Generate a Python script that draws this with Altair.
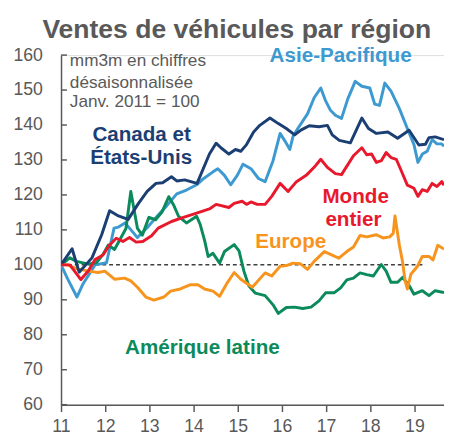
import altair as alt
import pandas as pd

# ---------------- data (Jan 2011 = 100, 3-month moving average) ----------------
can_t = [2011.0, 2011.25, 2011.41, 2011.7, 2011.92, 2012.1, 2012.3, 2012.52, 2012.75, 2012.95,
         2013.15, 2013.3, 2013.5, 2013.62, 2013.8, 2014.08, 2014.36, 2014.51, 2014.62, 2014.8,
         2014.95, 2015.07, 2015.2, 2015.36, 2015.5, 2015.73, 2015.92, 2016.1, 2016.29, 2016.44,
         2016.62, 2016.84, 2017.03, 2017.14, 2017.3, 2017.55, 2017.81, 2017.96, 2018.14, 2018.4,
         2018.62, 2018.88, 2019.1, 2019.25, 2019.33, 2019.47, 2019.67]
can_v = [100, 104.6, 97.9, 102, 108.6, 115.5, 114, 113, 117.5, 121,
         123.3, 123.5, 125.2, 124, 124.3, 123.3, 131.7, 134.8, 133.5, 131.7,
         133, 132.5, 134.4, 138, 139.9, 142, 140.4, 139, 137.2, 138.6,
         139.8, 139.5, 139.9, 137.2, 135.6, 134.9, 142, 139, 137.6, 138,
         136.2, 138.5, 134.3, 134.5, 136.4, 136.6, 135.8]

asia_t = [2011.0, 2011.15, 2011.36, 2011.5, 2011.77, 2012.03, 2012.2, 2012.3, 2012.45, 2012.73,
          2012.95, 2013.18, 2013.4, 2013.62, 2013.84, 2014.07, 2014.2, 2014.44, 2014.55, 2014.7,
          2014.84, 2014.99, 2015.12, 2015.3, 2015.47, 2015.62, 2015.8, 2015.96, 2016.07, 2016.18,
          2016.25, 2016.36, 2016.58, 2016.73, 2016.88, 2016.99, 2017.1, 2017.21, 2017.35, 2017.49,
          2017.66, 2017.81, 2017.99, 2018.1, 2018.21, 2018.33, 2018.47, 2018.66, 2018.84, 2018.99,
          2019.08, 2019.18, 2019.29, 2019.4, 2019.51, 2019.62, 2019.67]
asia_v = [100, 96, 90.8, 94.6, 100, 100.6, 110.5, 110.8, 112, 107.8,
          110.6, 114, 117, 120.3, 121.4, 122.9, 124.4, 126.6, 127.5, 125.6,
          122.9, 125.6, 128.8, 127.5, 124.7, 123.8, 129.8, 137.6, 135.4, 133,
          136.7, 139, 143.2, 147.8, 150.6, 146.9, 144.2, 142.8, 141.9, 147.4,
          152.5, 151.1, 150.6, 146, 145.6, 152, 149.7, 144.7, 139, 134.4,
          129.3, 131.7, 132.5, 135.8, 134.6, 134.6, 133.9]

world_t = [2011.0, 2011.2, 2011.45, 2011.62, 2011.77, 2011.95, 2012.1, 2012.25, 2012.4, 2012.55,
           2012.7, 2012.85, 2013.05, 2013.2, 2013.5, 2013.77, 2014.07, 2014.36, 2014.51, 2014.8,
           2014.92, 2015.1, 2015.2, 2015.3, 2015.44, 2015.62, 2015.77, 2015.96, 2016.14, 2016.33,
           2016.55, 2016.73, 2016.88, 2017.03, 2017.21, 2017.35, 2017.62, 2017.81, 2017.92, 2018.03,
           2018.14, 2018.25, 2018.36, 2018.47, 2018.59, 2018.7, 2018.84, 2018.99, 2019.08, 2019.18,
           2019.29, 2019.4, 2019.51, 2019.62, 2019.67]
world_v = [100, 100, 95.8, 98.3, 101.5, 102.8, 105.7, 107.6, 106.7, 107.8,
           106.5, 106.7, 108.3, 110.5, 112.4, 113.6, 114.8, 116, 117.3, 116.4,
           117.6, 118.2, 117.3, 118, 117.3, 117.3, 119.6, 123.3, 121, 123.8,
           125.6, 127.9, 130.2, 127.9, 126.1, 125.8, 131.2, 133.5, 131.5, 131.7,
           129.3, 129.8, 132.1, 130.7, 130.2, 127, 122.8, 121.9, 119.6, 121.5,
           121, 123.3, 122.4, 123.8, 122.8]

eur_t = [2011.0, 2011.15, 2011.33, 2011.62, 2011.84, 2011.99, 2012.21, 2012.44, 2012.58, 2012.73,
         2012.92, 2013.1, 2013.33, 2013.48, 2013.7, 2013.92, 2014.1, 2014.25, 2014.44, 2014.59,
         2014.77, 2014.92, 2015.07, 2015.33, 2015.62, 2015.77, 2015.96, 2016.1, 2016.25, 2016.42,
         2016.58, 2016.73, 2016.96, 2017.14, 2017.29, 2017.47, 2017.62, 2017.77, 2017.92, 2018.14,
         2018.29, 2018.44, 2018.52, 2018.56, 2018.66, 2018.73, 2018.79, 2018.84, 2018.92, 2019.07,
         2019.18, 2019.33, 2019.42, 2019.53, 2019.67]
eur_v = [100, 100, 99, 98.2, 97.8, 98.2, 95.9, 96.2, 95.4, 93.6,
         90.8, 89.9, 90.8, 92.5, 93.1, 94.3, 94.3, 93.1, 92.5, 91,
         95, 97.8, 95.9, 93.6, 97.7, 96.8, 99.6, 99.8, 100.5, 100.3,
         98.7, 101, 103.8, 102.8, 101.9, 103.8, 105.1, 108.4, 108, 108.6,
         107.7, 108, 109, 114, 105.6, 101, 95.4, 93.1, 97.3, 99.6,
         102.4, 102.4, 101.4, 105.6, 104.5]

latam_t = [2011.0, 2011.2, 2011.35, 2011.62, 2011.8, 2011.95, 2012.07, 2012.21, 2012.35, 2012.47,
           2012.58, 2012.73, 2012.84, 2012.99, 2013.14, 2013.29, 2013.44, 2013.55, 2013.66, 2013.84,
           2014.07, 2014.15, 2014.25, 2014.33, 2014.44, 2014.59, 2014.7, 2014.92, 2015.03, 2015.14,
           2015.25, 2015.4, 2015.62, 2015.81, 2015.92, 2016.1, 2016.29, 2016.47, 2016.66, 2016.84,
           2016.99, 2017.18, 2017.33, 2017.47, 2017.62, 2017.77, 2017.92, 2018.07, 2018.25, 2018.36,
           2018.47, 2018.62, 2018.73, 2018.88, 2018.99, 2019.18, 2019.33, 2019.47, 2019.67]
latam_v = [100, 102, 101, 100.2, 100.6, 103, 105.7, 104.4, 107.6, 110.4,
           121, 110.4, 108.5, 113.6, 112.9, 115.2, 119.5, 117.1, 113.9, 112,
           113.9, 111.6, 107, 102.4, 103.3, 100.5, 103.8, 105.8, 104, 98.2,
           94, 91.9, 91.2, 88.4, 86.1, 87.8, 87.9, 87.5, 87.9, 89.7,
           92, 92, 93.4, 95.7, 96.2, 97.7, 97.2, 96.8, 100.1, 98.2,
           95, 95, 96.4, 94.1, 91.6, 92.6, 91.2, 92.6, 92.1]

y_ticks = [60, 70, 80, 90, 100, 110, 120, 130, 140, 150, 160]
x_ticks = [2011, 2012, 2013, 2014, 2015, 2016, 2017, 2018, 2019]

# label annotations: text, year, value, colour
lab_text = ["Asie-Pacifique", "Monde", "entier", "Europe", "Amérique latine"]
lab_year = [2017.33, 2017.67, 2017.62, 2016.2, 2014.2]
lab_val = [159.7, 119.3, 112.8, 106.6, 76.3]
lab_col = ["#3d9ad1", "#e8192c", "#e8192c", "#f7941d", "#0b8a5b"]

can_lab_text = ["Canada et", "États-Unis"]
can_lab_year = [2011.71, 2011.66]
can_lab_val = [137.2, 130.5]

note_text = ["mm3m en chiffres", "désaisonnalisée", "Janv. 2011 = 100"]
note_year = [2011.2, 2011.2, 2011.2]
note_val = [158.3, 152.1, 146.5]

GREY = "#595959"
FONT = "Liberation Sans"

x_scale = alt.Scale(domain=[2011, 2019.67], nice=False, zero=False)
y_scale = alt.Scale(domain=[60, 160], nice=False, zero=False)

x_axis = alt.Axis(values=x_ticks, labelExpr="datum.value - 2000", tickSize=7, tickColor=GREY,
                  tickWidth=1.5, labelFontSize=18, labelColor=GREY, labelFont=FONT,
                  labelPadding=6, labelFlush=False, domainColor=GREY, domainWidth=1.5,
                  grid=False, title=None)
y_axis = alt.Axis(values=y_ticks, tickSize=0, labelFontSize=18, labelColor=GREY, labelFont=FONT,
                  labelPadding=19, domainColor=GREY, domainWidth=1.5, grid=False, title=None)

X = lambda f: alt.X(f, type="quantitative", scale=x_scale, axis=x_axis)
Y = lambda f: alt.Y(f, type="quantitative", scale=y_scale, axis=y_axis)

layers = []

# inward y ticks
tick_df = pd.DataFrame({"v": y_ticks})
layers.append(alt.Chart(tick_df).mark_rule(color=GREY, strokeWidth=1.5).encode(
    x=alt.value(0), x2=alt.value(6), y=Y("v")))

# dashed 100 reference line
ref_df = pd.DataFrame({"x": [2011], "x2": [2019.25], "y": [100]})
layers.append(alt.Chart(ref_df).mark_rule(color="#404040", strokeWidth=1.5, strokeDash=[4, 3]).encode(
    x=X("x"), x2="x2", y=Y("y")))

series = [
    (asia_t, asia_v, "#3d9ad1"),
    (latam_t, latam_v, "#0b8a5b"),
    (eur_t, eur_v, "#f7941d"),
    (can_t, can_v, "#1c3f73"),
    (world_t, world_v, "#e8192c"),
]
for t, v, col in series:
    df = pd.DataFrame({"year": t, "val": v})
    layers.append(alt.Chart(df).mark_line(color=col, strokeWidth=3, clip=True,
                                          strokeJoin="round").encode(x=X("year"), y=Y("val")))

lab_df = pd.DataFrame({"text": lab_text, "year": lab_year, "val": lab_val, "col": lab_col})
layers.append(alt.Chart(lab_df).mark_text(font=FONT, fontSize=21, fontWeight="bold",
                                          align="center", baseline="middle").encode(
    x=X("year"), y=Y("val"), text="text:N", color=alt.Color("col:N", scale=None)))

can_df = pd.DataFrame({"text": can_lab_text, "year": can_lab_year, "val": can_lab_val})
layers.append(alt.Chart(can_df).mark_text(font=FONT, fontSize=21, fontWeight="bold", color="#1c3f73",
                                          align="left", baseline="middle").encode(
    x=X("year"), y=Y("val"), text="text:N"))

note_df = pd.DataFrame({"text": note_text, "year": note_year, "val": note_val})
layers.append(alt.Chart(note_df).mark_text(font=FONT, fontSize=17.5, color=GREY,
                                           align="left", baseline="middle").encode(
    x=X("year"), y=Y("val"), text="text:N"))

chart = alt.layer(*layers).properties(
    width=390, height=356,
    autosize=alt.AutoSizeParams(type="none"),
    padding={"left": 54, "top": 44, "right": 0, "bottom": 32},
    title=alt.TitleParams("Ventes de véhicules par région", font=FONT, fontSize=27,
                          fontWeight="bold", color=GREY, anchor="middle", offset=1, dx=-16),
).configure_view(stroke=None).configure(background="white")

chart.save("out.html", embed_options={"renderer": "svg", "actions": False})
